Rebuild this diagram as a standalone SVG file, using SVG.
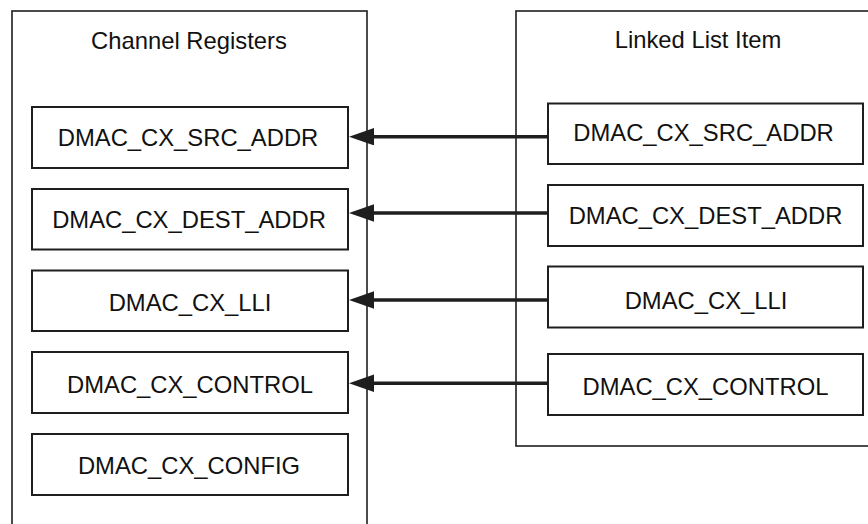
<svg xmlns="http://www.w3.org/2000/svg" width="868" height="524" viewBox="0 0 868 524">
<defs>
<style>
.outer{fill:none;stroke:#1e1e1e;stroke-width:1.6}
.box{fill:#fff;stroke:#1e1e1e;stroke-width:2}
.t{font-family:"Liberation Sans",Arial,sans-serif;font-size:23.8px;fill:#111;text-anchor:middle}
.conn{stroke:#1e1e1e;stroke-width:3.6;fill:none;marker-end:url(#ah)}
</style>
<marker id="ah" markerUnits="userSpaceOnUse" markerWidth="26" markerHeight="18" refX="0" refY="8.7" orient="auto" viewBox="0 0 26 18">
<path d="M0,0 L25,8.7 L0,17.4 z" fill="#1e1e1e"/>
</marker>
</defs>
<rect width="868" height="524" fill="#fff"/>
<g id="channel-registers">
<rect class="outer" x="12" y="11" width="355" height="530"/>
<text class="t" x="189" y="49">Channel Registers</text>
</g>
<g id="linked-list-item">
<rect class="outer" x="516" y="11" width="370" height="435"/>
<text class="t" x="698" y="48">Linked List Item</text>
</g>
<g id="cr-src">
<rect class="box" x="32" y="107" width="316" height="61"/>
<text class="t" x="188" y="145.5">DMAC_CX_SRC_ADDR</text>
</g>
<g id="cr-dest">
<rect class="box" x="32" y="189" width="316" height="60.5"/>
<text class="t" x="189" y="227.5">DMAC_CX_DEST_ADDR</text>
</g>
<g id="cr-lli">
<rect class="box" x="32" y="270.5" width="316" height="60.5"/>
<text class="t" x="190" y="310.5">DMAC_CX_LLI</text>
</g>
<g id="cr-control">
<rect class="box" x="32" y="352" width="316" height="61"/>
<text class="t" x="190" y="392.5">DMAC_CX_CONTROL</text>
</g>
<g id="cr-config">
<rect class="box" x="32" y="434" width="316" height="61"/>
<text class="t" x="189" y="474">DMAC_CX_CONFIG</text>
</g>
<g id="lli-src">
<rect class="box" x="548" y="103.5" width="315" height="60.5"/>
<text class="t" x="703.5" y="140.5">DMAC_CX_SRC_ADDR</text>
</g>
<g id="lli-dest">
<rect class="box" x="548" y="185" width="315" height="61"/>
<text class="t" x="705.5" y="223.5">DMAC_CX_DEST_ADDR</text>
</g>
<g id="lli-lli">
<rect class="box" x="548" y="266.5" width="315" height="61"/>
<text class="t" x="706" y="308.5">DMAC_CX_LLI</text>
</g>
<g id="lli-control">
<rect class="box" x="548" y="354" width="315" height="61"/>
<text class="t" x="705.5" y="395">DMAC_CX_CONTROL</text>
</g>
<g id="connectors">
<line class="conn" x1="548" y1="136.7" x2="374" y2="136.7"/>
<line class="conn" x1="548" y1="213" x2="374" y2="213"/>
<line class="conn" x1="548" y1="300" x2="374" y2="300"/>
<line class="conn" x1="548" y1="383.3" x2="374" y2="383.3"/>
</g>
</svg>
